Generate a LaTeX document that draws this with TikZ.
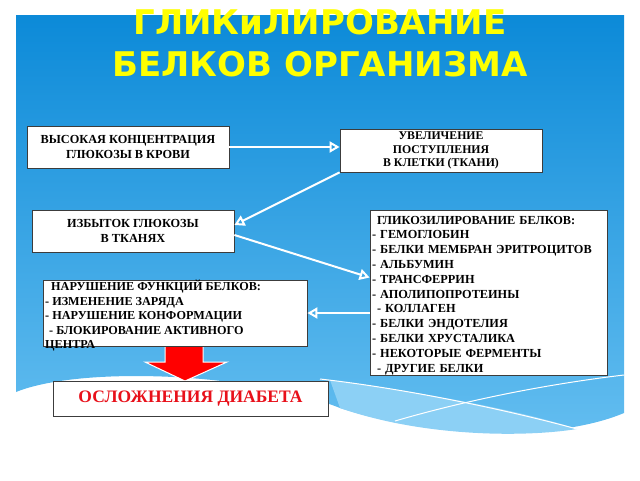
\documentclass[tikz,border=0pt]{standalone}
\usepackage{fontspec}
\setmainfont{Liberation Serif}
\newfontfamily\titlefont{DejaVu Sans}
\usetikzlibrary{arrows.meta,calc}
\definecolor{skytop}{RGB}{12,138,216}
\definecolor{skybottom}{RGB}{100,190,240}
\definecolor{skylight}{RGB}{140,208,245}
\definecolor{boxgray}{RGB}{60,60,60}
\definecolor{titleyellow}{RGB}{255,255,0}
\definecolor{alertred}{RGB}{232,16,26}
\tikzset{
  box/.style={draw=boxgray, fill=white, line width=0.8pt, inner sep=0pt, align=center, font=\bfseries\fontsize{12.3}{15}\selectfont},
  link/.style={draw=white, line width=2pt, -{Triangle[open, length=10pt, width=11pt]}}
}

\begin{document}
\begin{tikzpicture}[x=1pt, y=-1pt]
        \useasboundingbox (0,0) rectangle (640,480);

        \shade[top color=skytop, bottom color=skybottom] (16,15) -- (624,15) -- (624,413) .. controls (560,440) and (440,440) .. (340,408) .. controls (250,372) and (80,366) .. (16,392) -- cycle;
        \fill[skylight] (330,380) .. controls (420,392) and (520,410) .. (577,429) .. controls (520,438) and (420,436) .. (340,408) -- cycle;
        \draw[white, line width=1pt] (320,379) .. controls (400,388) and (500,408) .. (577,429);
        \draw[white, line width=1pt] (395,421) .. controls (460,402) and (540,385) .. (624,375);

        \node[font=\titlefont\bfseries\fontsize{34}{42}\selectfont, text=titleyellow, align=center, inner sep=0pt, anchor=north] (title) at (320,9) {ГЛИКиЛИРОВАНИЕ\\БЕЛКОВ ОРГАНИЗМА};

        \node[box, minimum width=202pt, minimum height=42pt] (conc) at (128,147) {ВЫСОКАЯ КОНЦЕНТРАЦИЯ\\ГЛЮКОЗЫ В КРОВИ};
        \node[box, minimum width=202pt, minimum height=43pt, font=\bfseries\fontsize{11.8}{13.8}\selectfont] (uptake) at (441,150.5) {УВЕЛИЧЕНИЕ\\ПОСТУПЛЕНИЯ\\В КЛЕТКИ (ТКАНИ)};
        \node[box, minimum width=202pt, minimum height=42pt] (excess) at (133,231) {ИЗБЫТОК ГЛЮКОЗЫ\\В ТКАНЯХ};
        \node[box, minimum width=237pt, minimum height=165pt, text width=233pt, align=left, font=\bfseries\fontsize{12.3}{14.8}\selectfont] (glyc) at (488.5,292.5) {\rule{0pt}{14pt}\hspace*{5pt}ГЛИКОЗИЛИРОВАНИЕ БЕЛКОВ:\\- ГЕМОГЛОБИН\\- БЕЛКИ МЕМБРАН ЭРИТРОЦИТОВ\\- АЛЬБУМИН\\- ТРАНСФЕРРИН\\- АПОЛИПОПРОТЕИНЫ\\\hspace*{5pt}- КОЛЛАГЕН\\- БЕЛКИ ЭНДОТЕЛИЯ\\- БЕЛКИ ХРУСТАЛИКА\\- НЕКОТОРЫЕ ФЕРМЕНТЫ\\\hspace*{5pt}- ДРУГИЕ БЕЛКИ};

        \filldraw[fill=red, draw=white, line width=1pt] ($(175,346)+(-10,0)$) -- ++(38,0) -- ++(0,16) -- ++(24,0) -- (185,381) -- (145,362) -- ++(20,0) -- cycle;

        \node[box, minimum width=264pt, minimum height=66pt] (disorder) at (175,313) {};
        \node[anchor=north west, align=left, inner sep=0pt, font=\bfseries\fontsize{12.2}{14.5}\selectfont] (disordertext) at (45,280) {\hspace*{6pt}НАРУШЕНИЕ ФУНКЦИЙ БЕЛКОВ:\\- ИЗМЕНЕНИЕ ЗАРЯДА\\- НАРУШЕНИЕ КОНФОРМАЦИИ\\\hspace*{4pt}- БЛОКИРОВАНИЕ АКТИВНОГО\\ЦЕНТРА};
        \node[box, minimum width=275pt, minimum height=35pt, text=alertred, font=\bfseries\fontsize{17.5}{20}\selectfont] (compl) at (190.5,398.5) {ОСЛОЖНЕНИЯ ДИАБЕТА};

        \draw[link] (conc.east) -- (conc.east -| uptake.west);
        \draw[link] (uptake.south west) -- ([yshift=6pt]excess.east);
        \draw[link] ([yshift=-4pt]excess.east) -- ([yshift=15pt]glyc.west);
        \draw[link] (disorder.east -| glyc.west) -- (disorder.east);
    \end{tikzpicture}
\end{document}
